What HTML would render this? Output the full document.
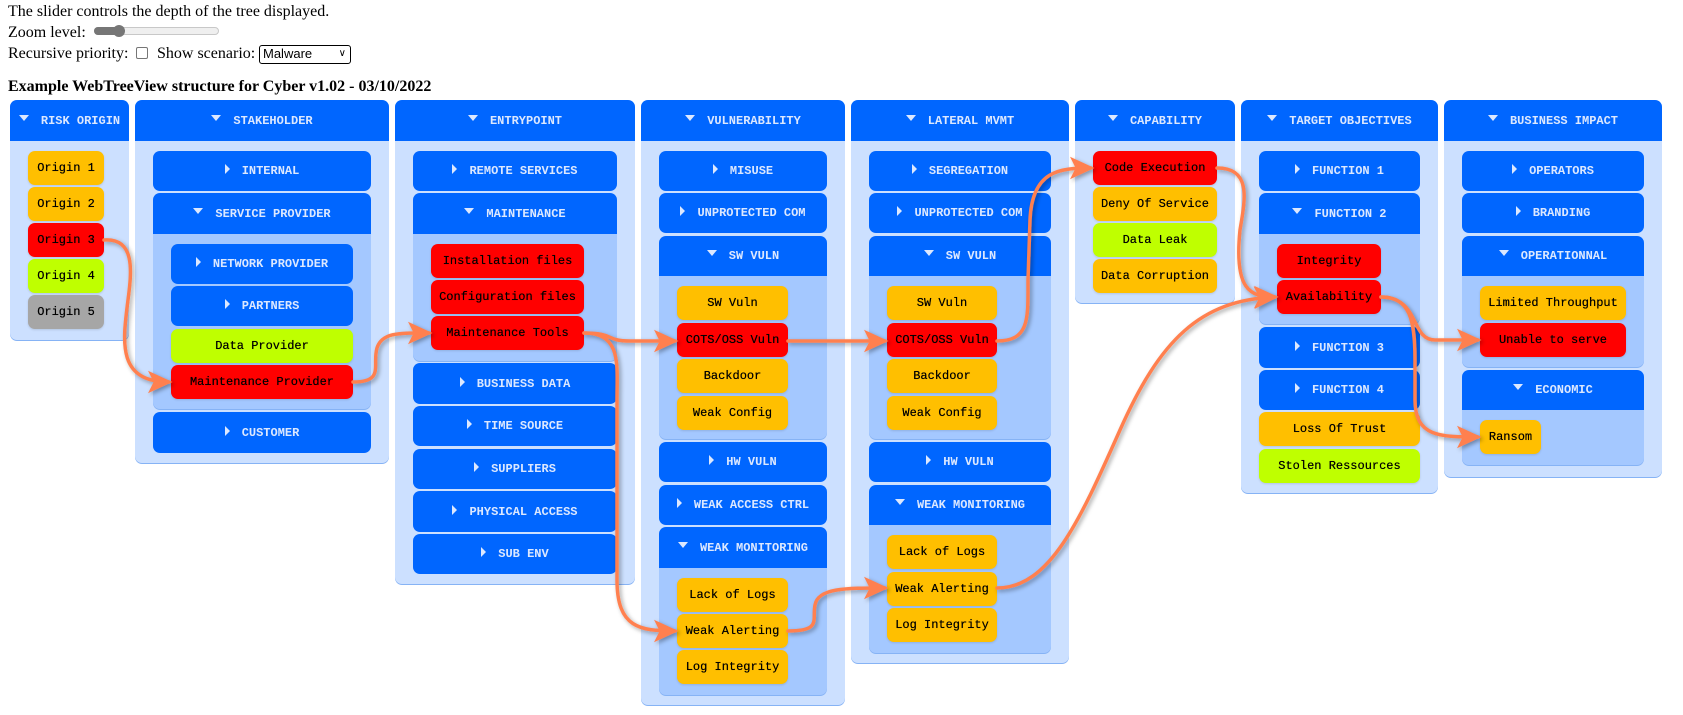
<!DOCTYPE html>
<html><head><meta charset="utf-8">
<style>
*{box-sizing:border-box;margin:0;padding:0}
body{width:1683px;height:715px;background:#fff;position:relative;overflow:hidden;font-family:"Liberation Serif",serif;font-size:16px;color:#000}
.t{position:absolute;left:8px;white-space:nowrap;line-height:18px}
.col{position:absolute;top:100px;background:#cce0ff;border-radius:7px;box-shadow:0 1px 0 #86b3f5}
.hd{position:absolute;left:0;top:0;right:0;height:41px;background:#0066ff;border-radius:7px 7px 0 0}
.b,.h,.i{position:absolute;display:flex;align-items:center;justify-content:center;font-family:"Liberation Mono",monospace;font-size:12px;white-space:nowrap}
.b,.h{background:#0066ff;color:#dce8ff;font-weight:bold}
.b{border-radius:7px}
.h{border-radius:7px 7px 0 0}
.s{position:absolute;background:#a4c8ff;border-radius:0 0 7px 7px;box-shadow:0 1px 0 #86b3f5}
.i{border-radius:7px;color:#000;box-shadow:0 1px 2px rgba(0,0,0,.12);text-shadow:0 0 0.4px #000}
.o{background:#ffbf00}.r{background:#ff0000}.g{background:#bfff00}.y{background:#a6a6a6}
.dn{display:inline-block;width:0;height:0;border-left:5px solid transparent;border-right:5px solid transparent;border-top:6px solid #dce8ff;margin-right:12px;position:relative;top:-3px}
.rt{display:inline-block;width:0;height:0;border-top:5px solid transparent;border-bottom:5px solid transparent;border-left:5px solid #dce8ff;margin-right:12px;position:relative;top:-2px}
.hx{position:absolute;left:0;right:0;top:0;height:41px;display:flex;align-items:center;justify-content:center;font-family:"Liberation Mono",monospace;font-size:12px;font-weight:bold;color:#dce8ff}
svg{position:absolute;left:0;top:0}
</style></head><body>
<div class="t" style="top:3px">The slider controls the depth of the tree displayed.</div>
<div class="t" style="top:24px">Zoom level:</div>
<div style="position:absolute;left:94px;top:27px;width:125px;height:8px;border-radius:4px;background:#efefef;border:1px solid #c8c8c8"></div>
<div style="position:absolute;left:113px;top:25px;width:12px;height:12px;border-radius:50%;background:#767676"></div>
<div style="position:absolute;left:94px;top:27px;width:25px;height:8px;border-radius:4px 0 0 4px;background:#767676"></div>
<div class="t" style="top:45px">Recursive priority:</div>
<div style="position:absolute;left:136px;top:47px;width:12px;height:12px;border:1px solid #767676;border-radius:2px;background:#fff"></div>
<div class="t" style="top:45px;left:157px">Show scenario:</div>
<div style="position:absolute;left:259px;top:45px;width:92px;height:19px;border:1.5px solid #000;border-radius:3px;background:#fff;font-family:'Liberation Sans',sans-serif;font-size:13px;line-height:16px;padding-left:3px">Malware<span style="position:absolute;right:4px;top:0;font-size:10px">&#x2228;</span></div>
<div class="t" style="top:78px;font-weight:bold">Example WebTreeView structure for Cyber v1.02 - 03/10/2022</div>

<div class="col" style="left:10px;width:119px;height:240px"><div class="hd"></div><div class="hx"><span class="dn"></span>RISK ORIGIN</div></div>
<div class="i o" style="left:28px;top:151px;width:76px;height:34px">Origin 1</div>
<div class="i o" style="left:28px;top:187px;width:76px;height:34px">Origin 2</div>
<div class="i r" style="left:28px;top:223px;width:76px;height:34px">Origin 3</div>
<div class="i g" style="left:28px;top:259px;width:76px;height:34px">Origin 4</div>
<div class="i y" style="left:28px;top:295px;width:76px;height:34px">Origin 5</div>

<div class="col" style="left:135px;width:254px;height:363px"><div class="hd"></div><div class="hx"><span class="dn"></span>STAKEHOLDER</div></div>
<div class="b" style="left:153px;top:151px;width:218px;height:40px"><span class="rt"></span>INTERNAL</div>
<div class="s" style="left:153px;top:234px;width:218px;height:175px"></div>
<div class="h" style="left:153px;top:193px;width:218px;height:41px"><span class="dn"></span>SERVICE PROVIDER</div>
<div class="b" style="left:171px;top:244px;width:182px;height:40px"><span class="rt"></span>NETWORK PROVIDER</div>
<div class="b" style="left:171px;top:286px;width:182px;height:40px"><span class="rt"></span>PARTNERS</div>
<div class="i g" style="left:171px;top:329px;width:182px;height:34px">Data Provider</div>
<div class="i r" style="left:171px;top:365px;width:182px;height:34px">Maintenance Provider</div>
<div class="b" style="left:153px;top:412px;width:218px;height:41px"><span class="rt"></span>CUSTOMER</div>

<div class="col" style="left:395px;width:240px;height:484px"><div class="hd"></div><div class="hx"><span class="dn"></span>ENTRYPOINT</div></div>
<div class="b" style="left:413px;top:151px;width:204px;height:40px"><span class="rt"></span>REMOTE SERVICES</div>
<div class="s" style="left:413px;top:234px;width:204px;height:127px"></div>
<div class="h" style="left:413px;top:193px;width:204px;height:41px"><span class="dn"></span>MAINTENANCE</div>
<div class="i r" style="left:431px;top:244px;width:153px;height:34px">Installation files</div>
<div class="i r" style="left:431px;top:280px;width:153px;height:34px">Configuration files</div>
<div class="i r" style="left:431px;top:316px;width:153px;height:34px">Maintenance Tools</div>
<div class="b" style="left:413px;top:363px;width:204px;height:41px"><span class="rt"></span>BUSINESS DATA</div>
<div class="b" style="left:413px;top:406px;width:204px;height:40px"><span class="rt"></span>TIME SOURCE</div>
<div class="b" style="left:413px;top:449px;width:204px;height:40px"><span class="rt"></span>SUPPLIERS</div>
<div class="b" style="left:413px;top:491px;width:204px;height:41px"><span class="rt"></span>PHYSICAL ACCESS</div>
<div class="b" style="left:413px;top:534px;width:204px;height:40px"><span class="rt"></span>SUB ENV</div>

<div class="col" style="left:641px;width:204px;height:605px"><div class="hd"></div><div class="hx"><span class="dn"></span>VULNERABILITY</div></div>
<div class="b" style="left:659px;top:151px;width:168px;height:40px"><span class="rt"></span>MISUSE</div>
<div class="b" style="left:659px;top:193px;width:168px;height:40px"><span class="rt"></span>UNPROTECTED COM</div>
<div class="s" style="left:659px;top:276px;width:168px;height:163px"></div>
<div class="h" style="left:659px;top:236px;width:168px;height:40px"><span class="dn"></span>SW VULN</div>
<div class="i o" style="left:677px;top:286px;width:111px;height:34px">SW Vuln</div>
<div class="i r" style="left:677px;top:323px;width:111px;height:34px">COTS/OSS Vuln</div>
<div class="i o" style="left:677px;top:359px;width:111px;height:34px">Backdoor</div>
<div class="i o" style="left:677px;top:396px;width:111px;height:34px">Weak Config</div>
<div class="b" style="left:659px;top:442px;width:168px;height:40px"><span class="rt"></span>HW VULN</div>
<div class="b" style="left:659px;top:485px;width:168px;height:40px"><span class="rt"></span>WEAK ACCESS CTRL</div>
<div class="s" style="left:659px;top:568px;width:168px;height:127px"></div>
<div class="h" style="left:659px;top:527px;width:168px;height:41px"><span class="dn"></span>WEAK MONITORING</div>
<div class="i o" style="left:677px;top:578px;width:111px;height:34px">Lack of Logs</div>
<div class="i o" style="left:677px;top:614px;width:111px;height:34px">Weak Alerting</div>
<div class="i o" style="left:677px;top:650px;width:111px;height:34px">Log Integrity</div>

<div class="col" style="left:851px;width:218px;height:563px"><div class="hd"></div><div class="hx"><span class="dn"></span>LATERAL MVMT</div></div>
<div class="b" style="left:869px;top:151px;width:182px;height:40px"><span class="rt"></span>SEGREGATION</div>
<div class="b" style="left:869px;top:193px;width:182px;height:40px"><span class="rt"></span>UNPROTECTED COM</div>
<div class="s" style="left:869px;top:276px;width:182px;height:163px"></div>
<div class="h" style="left:869px;top:236px;width:182px;height:40px"><span class="dn"></span>SW VULN</div>
<div class="i o" style="left:887px;top:286px;width:110px;height:34px">SW Vuln</div>
<div class="i r" style="left:887px;top:323px;width:110px;height:34px">COTS/OSS Vuln</div>
<div class="i o" style="left:887px;top:359px;width:110px;height:34px">Backdoor</div>
<div class="i o" style="left:887px;top:396px;width:110px;height:34px">Weak Config</div>
<div class="b" style="left:869px;top:442px;width:182px;height:40px"><span class="rt"></span>HW VULN</div>
<div class="s" style="left:869px;top:525px;width:182px;height:128px"></div>
<div class="h" style="left:869px;top:485px;width:182px;height:40px"><span class="dn"></span>WEAK MONITORING</div>
<div class="i o" style="left:887px;top:535px;width:110px;height:34px">Lack of Logs</div>
<div class="i o" style="left:887px;top:572px;width:110px;height:34px">Weak Alerting</div>
<div class="i o" style="left:887px;top:608px;width:110px;height:34px">Log Integrity</div>

<div class="col" style="left:1075px;width:160px;height:203px"><div class="hd"></div><div class="hx"><span class="dn"></span>CAPABILITY</div></div>
<div class="i r" style="left:1093px;top:151px;width:124px;height:34px">Code Execution</div>
<div class="i o" style="left:1093px;top:187px;width:124px;height:34px">Deny Of Service</div>
<div class="i g" style="left:1093px;top:223px;width:124px;height:34px">Data Leak</div>
<div class="i o" style="left:1093px;top:259px;width:124px;height:34px">Data Corruption</div>

<div class="col" style="left:1241px;width:197px;height:393px"><div class="hd"></div><div class="hx"><span class="dn"></span>TARGET OBJECTIVES</div></div>
<div class="b" style="left:1259px;top:151px;width:161px;height:40px"><span class="rt"></span>FUNCTION 1</div>
<div class="s" style="left:1259px;top:234px;width:161px;height:90px"></div>
<div class="h" style="left:1259px;top:193px;width:161px;height:41px"><span class="dn"></span>FUNCTION 2</div>
<div class="i r" style="left:1277px;top:244px;width:104px;height:34px">Integrity</div>
<div class="i r" style="left:1277px;top:280px;width:104px;height:34px">Availability</div>
<div class="b" style="left:1259px;top:327px;width:161px;height:41px"><span class="rt"></span>FUNCTION 3</div>
<div class="b" style="left:1259px;top:370px;width:161px;height:40px"><span class="rt"></span>FUNCTION 4</div>
<div class="i o" style="left:1259px;top:412px;width:161px;height:34px">Loss Of Trust</div>
<div class="i g" style="left:1259px;top:449px;width:161px;height:34px">Stolen Ressources</div>

<div class="col" style="left:1444px;width:218px;height:377px"><div class="hd"></div><div class="hx"><span class="dn"></span>BUSINESS IMPACT</div></div>
<div class="b" style="left:1462px;top:151px;width:182px;height:40px"><span class="rt"></span>OPERATORS</div>
<div class="b" style="left:1462px;top:193px;width:182px;height:40px"><span class="rt"></span>BRANDING</div>
<div class="s" style="left:1462px;top:276px;width:182px;height:91px"></div>
<div class="h" style="left:1462px;top:236px;width:182px;height:40px"><span class="dn"></span>OPERATIONNAL</div>
<div class="i o" style="left:1480px;top:286px;width:146px;height:34px">Limited Throughput</div>
<div class="i r" style="left:1480px;top:323px;width:146px;height:34px">Unable to serve</div>
<div class="s" style="left:1462px;top:410px;width:182px;height:55px"></div>
<div class="h" style="left:1462px;top:370px;width:182px;height:40px"><span class="dn"></span>ECONOMIC</div>
<div class="i o" style="left:1480px;top:420px;width:61px;height:34px">Ransom</div>

<svg width="1683" height="715" viewBox="0 0 1683 715">
<defs>
<marker id="a" markerWidth="7" markerHeight="7" refX="6" refY="3.5" orient="auto" markerUnits="strokeWidth">
<path d="M0,0.3 L7,3.5 L0,6.7 L1.6,3.5 Z" fill="#ff8050"/>
</marker>
<filter id="sh" x="-10%" y="-10%" width="120%" height="120%"><feDropShadow dx="2" dy="2" stdDeviation="2" flood-color="#000" flood-opacity="0.35"/></filter>
</defs>
<g fill="none" stroke="#ff8050" stroke-width="3.5" stroke-linecap="round" marker-end="url(#a)" filter="url(#sh)">
<path d="M104,240 C135,238 132,270 128,300 C123,340 116,382 169,382"/>
<path d="M353,382 C385,382 372,365 377,348 C382,332 400,333 429,333"/>
<path d="M584,333 C615,333 605,341 630,341 L675,341"/>
<path d="M584,333 C622,333 617,365 617,400 L617,580 C617,628 640,631 675,631"/>
<path d="M788,341 L885,341"/>
<path d="M788,631 C822,631 812,620 815,605 C818,588 845,588 885,588"/>
<path d="M997,341 C1030,341 1028,318 1028,280 L1030,220 C1032,170 1060,168 1091,168"/>
<path d="M997,588 C1050,588 1080,520 1120,430 C1160,340 1200,300 1275,297"/>
<path d="M1217,168 C1252,168 1245,200 1240,230 C1234,290 1250,297 1275,297"/>
<path d="M1381,297 C1420,297 1410,340 1435,340 L1478,340"/>
<path d="M1381,297 C1410,297 1415,320 1415,360 L1415,400 C1415,437 1440,437 1478,437"/>
</g>
</svg>
</body></html>
